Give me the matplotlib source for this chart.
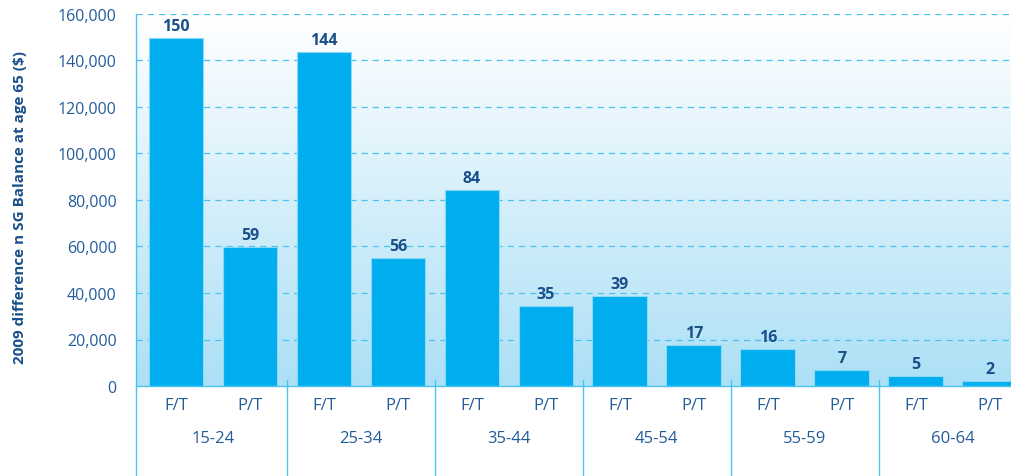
import numpy as np
import matplotlib
matplotlib.use("Agg")
import matplotlib.pyplot as plt
from matplotlib.colors import LinearSegmentedColormap

# data
groups = ["15-24", "25-34", "35-44", "45-54", "55-59", "60-64"]
work_types = ["F/T", "P/T"]
balances = [149500, 59700, 143500, 55000, 84300, 34200, 38700, 17500, 15800, 6900, 4300, 2100]
bar_labels = ["150", "59", "144", "56", "84", "35", "39", "17", "16", "7", "5", "2"]
yticks = [0, 20000, 40000, 60000, 80000, 100000, 120000, 140000, 160000]

bar_col = "#00aeef"
text_col = "#245c9a"
label_col = "#1a4f8a"
line_col = "#4cc3ef"

plt.rcParams['font.family'] = ['Open Sans', 'DejaVu Sans']

fig = plt.figure(figsize=(10.12, 4.77), dpi=100)
ax = fig.add_axes([136/1012, 1 - 387/477, 1 - 136/1012, (387 - 15)/477])

xmin, xmax = -0.54, 11.30

# background gradient: light blue at the bottom fading to white at the top
cmap = LinearSegmentedColormap.from_list("bg", ["#ffffff", "#ace0f6"])
grad = np.linspace(1, 0, 256).reshape(-1, 1)
ax.imshow(grad, cmap=cmap, aspect="auto", extent=[xmin, xmax, 0, 160000],
          origin="lower", zorder=0)
ax.set_xlim(xmin, xmax)
ax.set_ylim(0, 160000)

for t in yticks[1:]:
    ax.axhline(t, color=line_col, lw=0.9, ls=(0, (5, 4)), zorder=1)

x = np.arange(len(balances))
bars = ax.bar(x, balances, width=0.74, color=bar_col, edgecolor="#8ad8f6",
              linewidth=0.8, zorder=2)
for b, lab in zip(bars, bar_labels):
    ax.annotate(lab, (b.get_x() + b.get_width()/2, b.get_height()),
                xytext=(0, 3), textcoords="offset points", ha="center",
                va="bottom", fontsize=11.5, fontweight="bold", color=label_col)

ax.set_yticks(yticks)
ax.set_yticklabels([f"{t:,}" for t in yticks], fontsize=11.5, color=text_col)
ax.tick_params(axis="y", length=0, pad=14)
ax.set_xticks([])

for s in ["top", "right"]:
    ax.spines[s].set_visible(False)
ax.spines["left"].set_color(line_col)
ax.spines["bottom"].set_color(line_col)
ax.spines["left"].set_linewidth(1.0)
ax.spines["bottom"].set_linewidth(1.0)

tr = ax.get_xaxis_transform()
# sub labels F/T P/T
for i in x:
    ax.text(i, -0.05, work_types[i % 2], transform=tr, ha="center", va="center",
            fontsize=12, color=text_col)
# group labels and separators
for g, name in enumerate(groups):
    ax.text(2*g + 0.5, -0.14, name, transform=tr, ha="center", va="center",
            fontsize=12, color=text_col)
ax.plot([xmin, xmin], [0, -0.25], transform=tr, color=line_col, lw=1.0, clip_on=False)
for g in range(1, len(groups)):
    ax.plot([2*g - 0.5]*2, [0.015, -0.25], transform=tr, color=line_col, lw=1.0,
            clip_on=False)

fig.text(20/1012, 1 - 207/477, "2009 difference n SG Balance at age 65 ($)",
         rotation=90, ha="center", va="center", fontsize=11, fontweight="bold",
         color=label_col)

fig.savefig("out.png", dpi=100)
